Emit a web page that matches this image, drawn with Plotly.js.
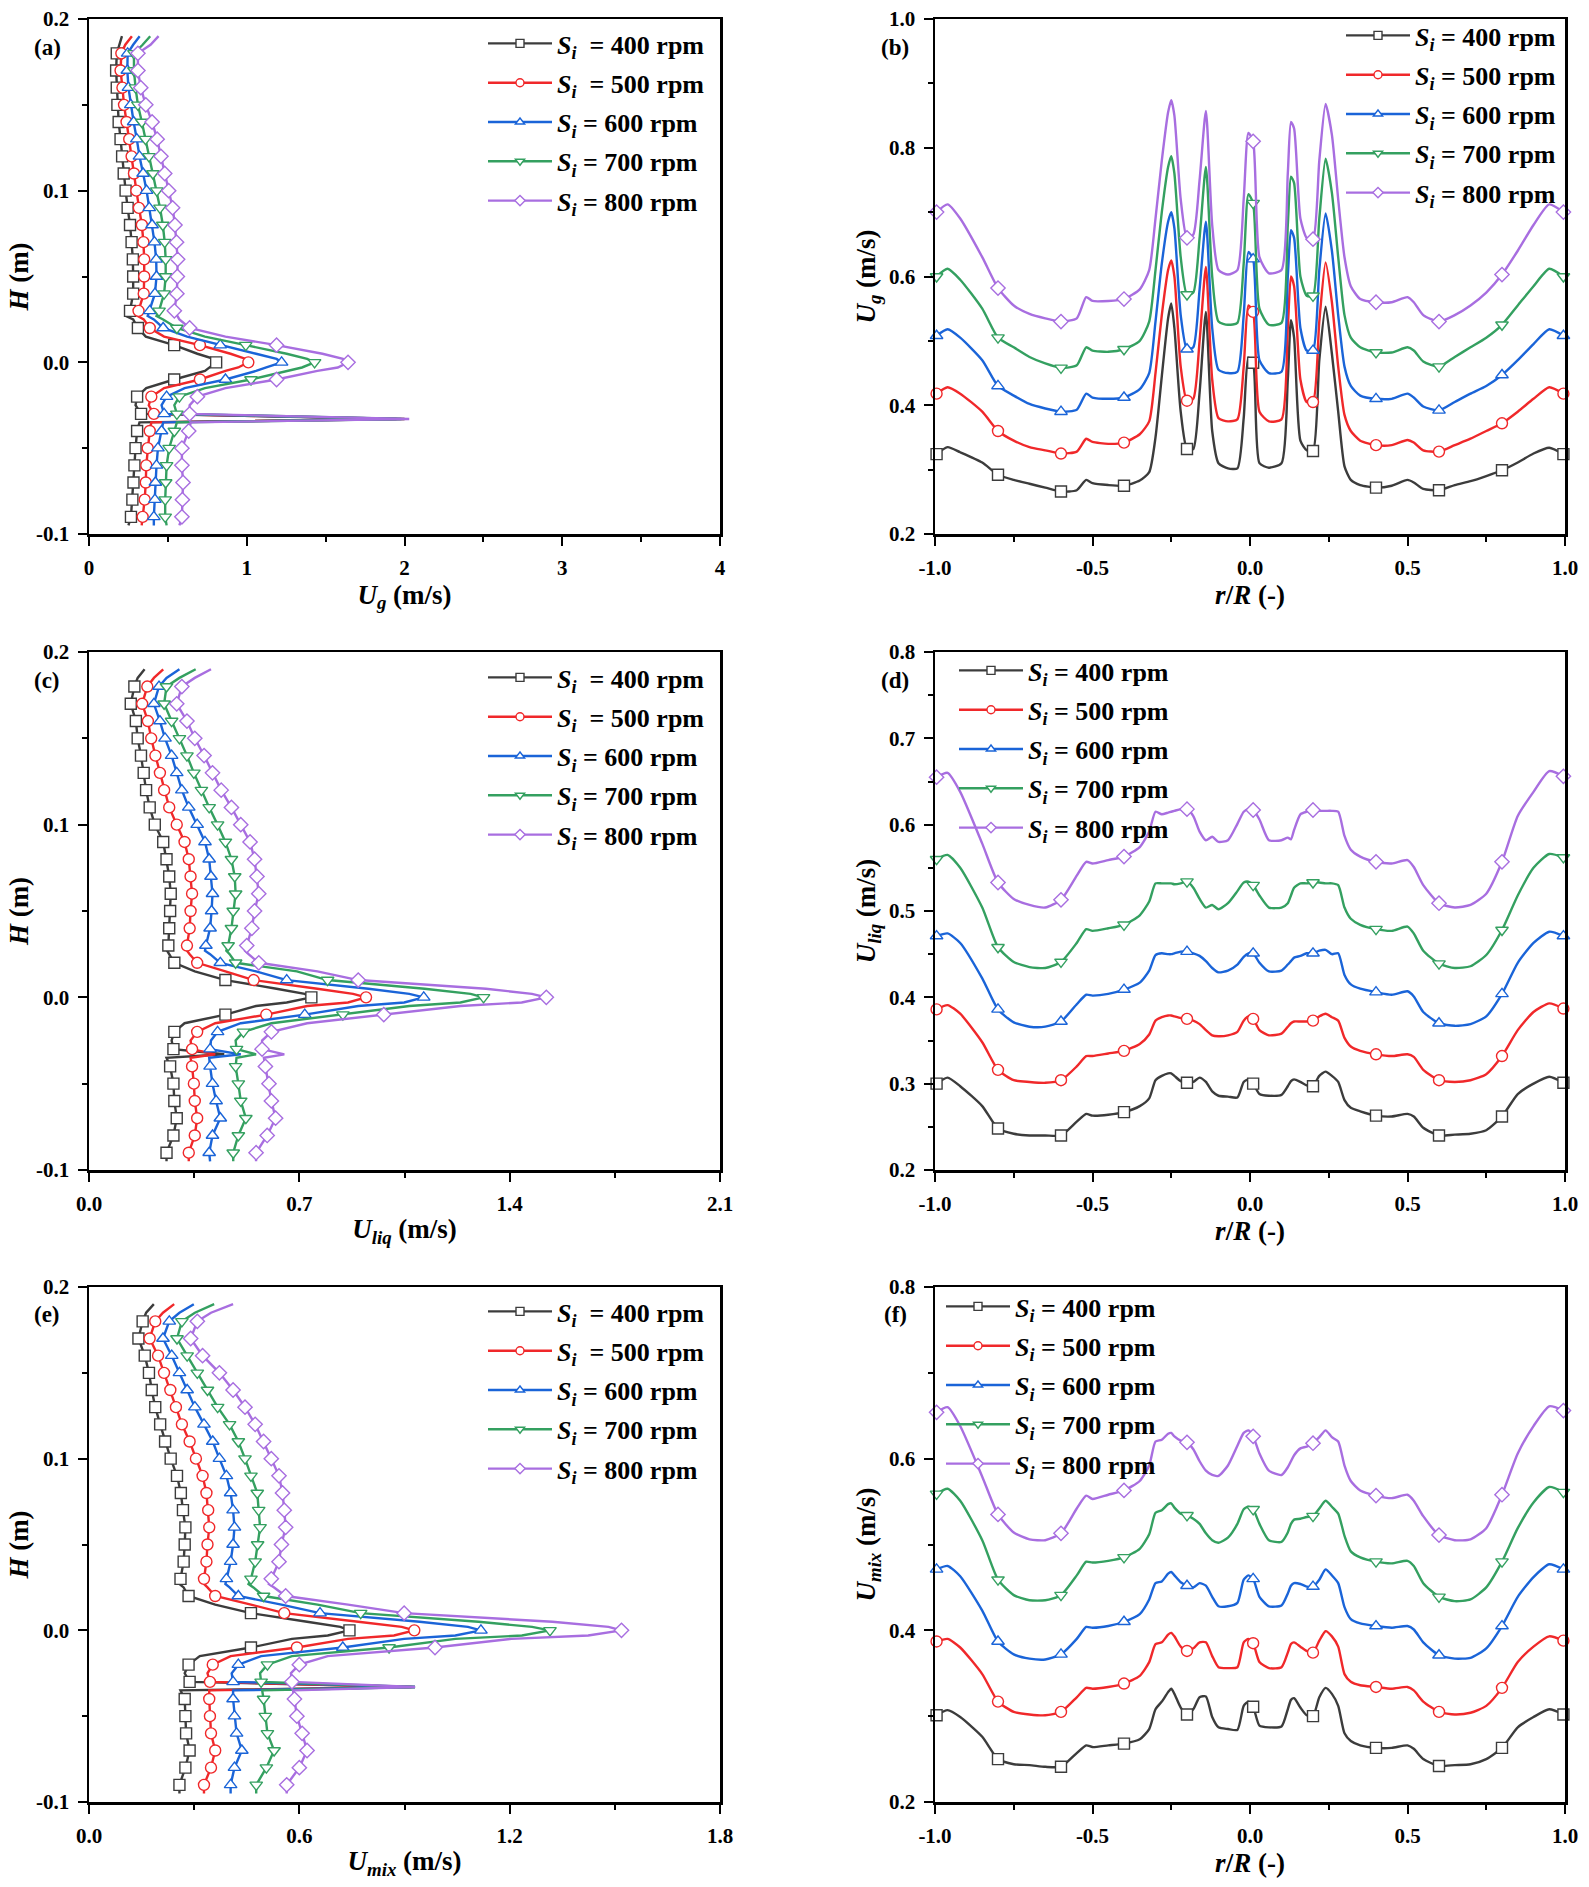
<!DOCTYPE html>
<html><head><meta charset="utf-8">
<script src="https://cdn.plot.ly/plotly-3.0.1.min.js"></script>
<style>html,body{margin:0;padding:0;background:#fff}</style>
</head><body><div id="chart" style="width:1589px;height:1887px"></div>
<script>
// ---------- categories / labels ----------
const speedLabels = ['400', '500', '600', '700', '800'];
const seriesColors = ['#3c3c3c', '#f0282a', '#1a64d8', '#34a060', '#a86ee0'];
const seriesSymbols = ['square', 'circle', 'triangle-up', 'triangle-down', 'diamond'];

// ---------- vertical profiles: height H (m) ----------
const heightH = [0.19,0.185,0.18,0.17,0.16,0.15,0.14,0.13,0.12,0.11,0.10,0.09,0.08,0.07,0.06,0.05,0.04,0.03,0.027,0.025,0.02,0.015,0.01,0.005,0.002,0,-0.003,-0.005,-0.01,-0.015,-0.02,-0.025,-0.03,-0.033,-0.035,-0.04,-0.05,-0.06,-0.07,-0.08,-0.09,-0.095];

// (a) Ug vs H
const ugH400 = [0.209,0.19,0.176,0.172,0.176,0.18,0.188,0.2,0.21,0.22,0.232,0.245,0.26,0.27,0.278,0.28,0.28,0.26,0.235,0.28,0.31,0.36,0.54,0.687,0.79,0.806,0.76,0.735,0.54,0.363,0.305,0.295,0.33,1.95,0.32,0.305,0.295,0.288,0.282,0.275,0.266,0.25];
const ugH500 = [0.272,0.23,0.205,0.2,0.212,0.222,0.238,0.255,0.27,0.285,0.3,0.316,0.335,0.345,0.35,0.35,0.347,0.314,0.308,0.347,0.385,0.476,0.703,0.897,0.994,1.01,0.946,0.865,0.703,0.476,0.395,0.379,0.411,2.0,0.395,0.385,0.372,0.363,0.36,0.353,0.34,0.334];
const ugH600 = [0.321,0.28,0.245,0.243,0.25,0.265,0.283,0.303,0.32,0.343,0.365,0.382,0.4,0.415,0.426,0.428,0.418,0.385,0.372,0.411,0.47,0.622,0.832,1.059,1.189,1.221,1.124,1.059,0.865,0.606,0.492,0.46,0.476,1.98,0.47,0.46,0.437,0.428,0.421,0.418,0.411,0.411];
const ugH700 = [0.388,0.34,0.285,0.285,0.295,0.31,0.335,0.358,0.38,0.405,0.43,0.45,0.468,0.48,0.486,0.486,0.476,0.444,0.428,0.47,0.557,0.735,0.994,1.253,1.383,1.43,1.35,1.253,1.027,0.735,0.573,0.541,0.557,2.0,0.557,0.541,0.508,0.492,0.486,0.483,0.483,0.492];
const ugH800 = [0.441,0.39,0.31,0.31,0.328,0.36,0.4,0.432,0.456,0.48,0.505,0.53,0.545,0.555,0.562,0.56,0.557,0.541,0.557,0.573,0.638,0.865,1.189,1.48,1.61,1.642,1.577,1.448,1.189,0.865,0.687,0.638,0.638,2.03,0.645,0.632,0.589,0.589,0.596,0.592,0.589,0.573];

// (c) Uliq vs H
const uliqH400 = [0.185,0.162,0.151,0.139,0.156,0.162,0.173,0.182,0.19,0.202,0.219,0.247,0.258,0.267,0.272,0.27,0.267,0.264,0.26,0.267,0.284,0.352,0.454,0.624,0.718,0.74,0.658,0.556,0.454,0.318,0.284,0.275,0.281,0.45,0.258,0.27,0.281,0.284,0.292,0.281,0.258,0.258];
const uliqH500 = [0.247,0.216,0.194,0.177,0.196,0.207,0.221,0.236,0.25,0.267,0.292,0.318,0.332,0.338,0.343,0.338,0.335,0.326,0.326,0.335,0.36,0.454,0.548,0.76,0.879,0.922,0.862,0.726,0.59,0.42,0.36,0.338,0.343,0.42,0.338,0.343,0.349,0.352,0.36,0.352,0.332,0.332];
const uliqH600 = [0.301,0.258,0.233,0.216,0.236,0.253,0.275,0.292,0.309,0.332,0.36,0.386,0.4,0.406,0.411,0.408,0.403,0.389,0.386,0.403,0.437,0.556,0.658,0.93,1.066,1.114,1.049,0.896,0.718,0.505,0.428,0.406,0.403,0.505,0.4,0.403,0.411,0.423,0.437,0.411,0.4,0.403];
const uliqH700 = [0.355,0.301,0.258,0.25,0.275,0.301,0.326,0.349,0.374,0.4,0.428,0.454,0.474,0.485,0.488,0.48,0.474,0.463,0.457,0.468,0.488,0.692,0.794,1.117,1.27,1.313,1.236,1.066,0.845,0.607,0.514,0.488,0.491,0.556,0.491,0.488,0.497,0.505,0.522,0.497,0.48,0.48];
const uliqH800 = [0.406,0.352,0.309,0.292,0.326,0.352,0.383,0.411,0.44,0.474,0.505,0.536,0.551,0.559,0.565,0.551,0.542,0.525,0.519,0.531,0.565,0.76,0.896,1.321,1.474,1.522,1.44,1.236,0.981,0.726,0.607,0.576,0.576,0.65,0.582,0.587,0.599,0.607,0.621,0.593,0.556,0.556];

// (e) Umix vs H
const umixH400 = [0.185,0.163,0.153,0.141,0.159,0.171,0.179,0.189,0.203,0.217,0.233,0.251,0.262,0.268,0.275,0.273,0.27,0.261,0.258,0.27,0.284,0.36,0.462,0.622,0.717,0.743,0.681,0.579,0.462,0.316,0.284,0.273,0.287,0.93,0.261,0.273,0.275,0.277,0.287,0.275,0.258,0.258];
const umixH500 = [0.243,0.211,0.189,0.173,0.197,0.214,0.232,0.248,0.265,0.287,0.305,0.324,0.335,0.34,0.343,0.338,0.335,0.328,0.328,0.338,0.36,0.462,0.557,0.768,0.892,0.928,0.87,0.739,0.593,0.404,0.353,0.338,0.345,0.92,0.343,0.343,0.345,0.348,0.36,0.348,0.328,0.328];
const umixH600 = [0.299,0.258,0.229,0.211,0.236,0.258,0.28,0.302,0.328,0.353,0.372,0.392,0.404,0.411,0.415,0.411,0.404,0.392,0.389,0.401,0.426,0.549,0.659,0.943,1.081,1.118,1.045,0.899,0.724,0.491,0.426,0.407,0.411,0.93,0.411,0.411,0.415,0.421,0.436,0.415,0.404,0.404];
const umixH700 = [0.357,0.302,0.265,0.251,0.28,0.309,0.338,0.367,0.401,0.426,0.445,0.462,0.48,0.484,0.488,0.481,0.474,0.462,0.455,0.469,0.498,0.652,0.775,1.111,1.264,1.315,1.235,1.045,0.856,0.579,0.509,0.488,0.491,0.93,0.494,0.498,0.503,0.509,0.528,0.506,0.477,0.477];
const umixH800 = [0.411,0.348,0.309,0.29,0.324,0.372,0.411,0.445,0.474,0.498,0.52,0.542,0.552,0.557,0.561,0.549,0.542,0.52,0.513,0.528,0.561,0.739,0.899,1.322,1.482,1.519,1.424,1.205,0.987,0.681,0.6,0.576,0.579,0.93,0.582,0.586,0.593,0.608,0.622,0.6,0.564,0.564];

// ---------- radial profiles: r/R (-) ----------
const radialR = [-0.995,-0.96,-0.92,-0.85,-0.8,-0.75,-0.7,-0.65,-0.6,-0.55,-0.52,-0.5,-0.45,-0.4,-0.35,-0.32,-0.3,-0.28,-0.26,-0.25,-0.24,-0.22,-0.2,-0.18,-0.16,-0.14,-0.12,-0.1,-0.07,-0.04,-0.02,-0.005,0.01,0.03,0.06,0.1,0.12,0.13,0.14,0.16,0.18,0.2,0.22,0.24,0.26,0.28,0.3,0.32,0.35,0.4,0.45,0.5,0.52,0.55,0.6,0.65,0.7,0.75,0.8,0.85,0.9,0.95,0.995];
const markerR = [-0.995,-0.8,-0.6,-0.4,-0.2,0.01,0.2,0.4,0.6,0.8,0.995];

// (b) Ug vs r/R
const ugR400 = [0.324,0.335,0.327,0.311,0.292,0.284,0.278,0.272,0.266,0.268,0.284,0.279,0.276,0.275,0.283,0.296,0.35,0.445,0.535,0.558,0.52,0.39,0.332,0.332,0.42,0.545,0.36,0.31,0.302,0.302,0.38,0.474,0.466,0.31,0.303,0.31,0.44,0.532,0.505,0.345,0.33,0.329,0.47,0.553,0.48,0.39,0.305,0.284,0.276,0.272,0.275,0.284,0.28,0.27,0.268,0.276,0.282,0.29,0.299,0.311,0.325,0.334,0.324];
const ugR500 = [0.418,0.428,0.418,0.39,0.36,0.345,0.335,0.33,0.325,0.328,0.348,0.343,0.34,0.342,0.355,0.375,0.45,0.54,0.61,0.625,0.6,0.46,0.407,0.41,0.5,0.615,0.44,0.38,0.375,0.378,0.46,0.555,0.545,0.39,0.375,0.378,0.52,0.6,0.585,0.44,0.405,0.405,0.53,0.622,0.56,0.46,0.385,0.36,0.345,0.338,0.338,0.346,0.342,0.33,0.328,0.338,0.348,0.36,0.372,0.39,0.41,0.428,0.418];
const ugR600 = [0.508,0.518,0.505,0.47,0.43,0.415,0.402,0.395,0.39,0.393,0.418,0.412,0.41,0.412,0.425,0.45,0.53,0.62,0.685,0.70,0.675,0.54,0.487,0.49,0.58,0.685,0.52,0.455,0.45,0.452,0.54,0.638,0.627,0.47,0.45,0.452,0.6,0.672,0.66,0.52,0.485,0.485,0.61,0.698,0.64,0.54,0.46,0.43,0.415,0.41,0.41,0.418,0.412,0.398,0.392,0.405,0.418,0.43,0.447,0.47,0.495,0.518,0.508];
const ugR700 = [0.60,0.612,0.595,0.55,0.505,0.49,0.475,0.465,0.458,0.462,0.49,0.485,0.483,0.487,0.5,0.53,0.61,0.7,0.77,0.787,0.76,0.63,0.572,0.575,0.66,0.77,0.6,0.53,0.525,0.528,0.62,0.728,0.714,0.55,0.525,0.528,0.68,0.755,0.745,0.6,0.57,0.57,0.69,0.783,0.73,0.63,0.54,0.505,0.49,0.482,0.482,0.49,0.485,0.468,0.46,0.475,0.49,0.505,0.525,0.555,0.585,0.612,0.60];
const ugR800 = [0.70,0.712,0.69,0.63,0.582,0.555,0.542,0.535,0.53,0.535,0.568,0.562,0.562,0.565,0.58,0.61,0.69,0.78,0.855,0.874,0.85,0.72,0.66,0.665,0.75,0.857,0.68,0.61,0.603,0.61,0.72,0.823,0.81,0.63,0.605,0.61,0.76,0.84,0.83,0.69,0.66,0.658,0.78,0.868,0.82,0.72,0.63,0.585,0.565,0.56,0.56,0.568,0.56,0.54,0.53,0.54,0.555,0.575,0.603,0.64,0.68,0.712,0.70];

// (d) Uliq vs r/R
const uliqR400 = [0.3,0.307,0.297,0.274,0.248,0.242,0.24,0.24,0.24,0.256,0.265,0.263,0.264,0.267,0.274,0.283,0.304,0.309,0.312,0.312,0.309,0.303,0.301,0.302,0.307,0.302,0.291,0.286,0.285,0.284,0.302,0.305,0.3,0.288,0.286,0.287,0.297,0.303,0.305,0.302,0.298,0.297,0.309,0.314,0.309,0.302,0.281,0.272,0.268,0.263,0.262,0.265,0.262,0.249,0.24,0.241,0.242,0.246,0.262,0.288,0.3,0.308,0.301];
const uliqR500 = [0.386,0.391,0.381,0.348,0.316,0.304,0.302,0.301,0.304,0.32,0.332,0.332,0.335,0.338,0.346,0.357,0.373,0.377,0.379,0.379,0.378,0.376,0.375,0.373,0.369,0.362,0.356,0.355,0.356,0.36,0.373,0.378,0.375,0.362,0.356,0.358,0.366,0.37,0.372,0.372,0.372,0.373,0.378,0.381,0.377,0.373,0.353,0.343,0.338,0.334,0.332,0.334,0.331,0.316,0.304,0.302,0.304,0.311,0.332,0.362,0.383,0.393,0.387];
const uliqR600 = [0.471,0.474,0.463,0.422,0.386,0.371,0.366,0.366,0.372,0.392,0.403,0.402,0.404,0.409,0.417,0.431,0.449,0.451,0.45,0.45,0.451,0.453,0.453,0.451,0.448,0.442,0.434,0.429,0.431,0.438,0.447,0.451,0.451,0.44,0.43,0.431,0.438,0.442,0.446,0.448,0.451,0.451,0.454,0.455,0.45,0.451,0.426,0.415,0.41,0.406,0.403,0.407,0.401,0.383,0.37,0.367,0.369,0.378,0.404,0.44,0.463,0.476,0.471];
const uliqR700 = [0.56,0.565,0.55,0.504,0.458,0.441,0.435,0.434,0.441,0.463,0.479,0.477,0.48,0.484,0.495,0.511,0.532,0.532,0.532,0.532,0.531,0.532,0.534,0.527,0.514,0.504,0.507,0.502,0.509,0.523,0.533,0.534,0.53,0.518,0.504,0.504,0.509,0.518,0.527,0.532,0.532,0.533,0.533,0.532,0.532,0.53,0.504,0.491,0.484,0.479,0.477,0.482,0.474,0.454,0.439,0.434,0.436,0.449,0.478,0.518,0.55,0.566,0.562];
const uliqR800 = [0.655,0.66,0.638,0.578,0.533,0.514,0.507,0.504,0.513,0.541,0.557,0.555,0.559,0.563,0.574,0.592,0.615,0.612,0.614,0.615,0.616,0.618,0.618,0.61,0.592,0.582,0.586,0.58,0.582,0.601,0.615,0.618,0.617,0.606,0.582,0.582,0.585,0.583,0.594,0.612,0.615,0.617,0.616,0.616,0.616,0.615,0.587,0.571,0.563,0.557,0.555,0.559,0.551,0.53,0.509,0.504,0.507,0.52,0.557,0.61,0.638,0.662,0.656];

// (f) Umix vs r/R
const umixR400 = [0.301,0.307,0.299,0.276,0.25,0.244,0.243,0.241,0.241,0.257,0.266,0.264,0.266,0.268,0.273,0.285,0.308,0.317,0.328,0.332,0.326,0.31,0.302,0.308,0.322,0.323,0.299,0.287,0.285,0.284,0.312,0.317,0.311,0.289,0.287,0.288,0.308,0.319,0.321,0.31,0.301,0.3,0.322,0.333,0.326,0.312,0.28,0.271,0.266,0.263,0.263,0.266,0.262,0.25,0.242,0.243,0.244,0.25,0.263,0.287,0.299,0.308,0.302];
const umixR500 = [0.387,0.39,0.38,0.349,0.317,0.305,0.302,0.301,0.305,0.322,0.333,0.332,0.334,0.338,0.347,0.363,0.384,0.386,0.395,0.397,0.393,0.381,0.376,0.379,0.386,0.386,0.37,0.357,0.356,0.357,0.386,0.39,0.385,0.363,0.356,0.357,0.374,0.384,0.386,0.381,0.376,0.374,0.388,0.399,0.393,0.381,0.349,0.34,0.336,0.334,0.332,0.334,0.33,0.317,0.305,0.302,0.304,0.312,0.333,0.363,0.381,0.393,0.388];
const umixR600 = [0.471,0.475,0.463,0.423,0.387,0.372,0.367,0.366,0.372,0.39,0.404,0.403,0.405,0.41,0.419,0.436,0.455,0.457,0.466,0.468,0.464,0.456,0.452,0.45,0.455,0.452,0.439,0.428,0.428,0.432,0.459,0.464,0.46,0.439,0.428,0.429,0.443,0.452,0.455,0.454,0.451,0.451,0.459,0.471,0.464,0.455,0.427,0.413,0.408,0.405,0.403,0.405,0.401,0.386,0.371,0.367,0.368,0.379,0.405,0.439,0.462,0.477,0.471];
const umixR700 = [0.559,0.565,0.551,0.505,0.459,0.441,0.435,0.435,0.441,0.464,0.48,0.479,0.481,0.485,0.495,0.512,0.537,0.54,0.547,0.548,0.543,0.536,0.534,0.53,0.524,0.513,0.505,0.502,0.508,0.524,0.541,0.544,0.541,0.524,0.505,0.503,0.514,0.524,0.529,0.53,0.532,0.533,0.542,0.551,0.544,0.536,0.51,0.492,0.485,0.48,0.478,0.481,0.475,0.455,0.439,0.434,0.436,0.45,0.48,0.519,0.549,0.567,0.561];
const umixR800 = [0.654,0.66,0.638,0.579,0.535,0.514,0.506,0.505,0.513,0.542,0.557,0.553,0.558,0.563,0.574,0.592,0.62,0.622,0.629,0.63,0.626,0.621,0.619,0.611,0.597,0.586,0.581,0.58,0.592,0.615,0.63,0.633,0.626,0.606,0.586,0.581,0.59,0.597,0.604,0.612,0.614,0.618,0.625,0.633,0.625,0.62,0.592,0.574,0.563,0.557,0.554,0.558,0.551,0.533,0.511,0.505,0.506,0.519,0.558,0.606,0.638,0.661,0.656];

// ---------- tick labels ----------
const tickH = [-0.1, 0, 0.1, 0.2];
const tickHText = ['-0.1', '0.0', '0.1', '0.2'];
const tickUgX = [0, 1, 2, 3, 4];
const tickUgXText = ['0', '1', '2', '3', '4'];
const tickUliqX = [0, 0.7, 1.4, 2.1];
const tickUliqXText = ['0.0', '0.7', '1.4', '2.1'];
const tickUmixX = [0, 0.6, 1.2, 1.8];
const tickUmixXText = ['0.0', '0.6', '1.2', '1.8'];
const tickR = [-1, -0.5, 0, 0.5, 1];
const tickRText = ['-1.0', '-0.5', '0.0', '0.5', '1.0'];
const tickUgY = [0.2, 0.4, 0.6, 0.8, 1.0];
const tickUgYText = ['0.2', '0.4', '0.6', '0.8', '1.0'];
const tickUliqY = [0.2, 0.3, 0.4, 0.5, 0.6, 0.7, 0.8];
const tickUliqYText = ['0.2', '0.3', '0.4', '0.5', '0.6', '0.7', '0.8'];
const tickUmixY = [0.2, 0.4, 0.6, 0.8];
const tickUmixYText = ['0.2', '0.4', '0.6', '0.8'];

// ---------- build ----------
const W = 1589, HT = 1887;
const FONT = 'Liberation Serif, Times New Roman, serif';
const px2x = p => p / W;
const px2y = p => 1 - p / HT;

const colL = [px2x(89), px2x(720)];
const colR = [px2x(935), px2x(1565)];
const row1 = [px2y(534), px2y(19)];
const row2 = [px2y(1170), px2y(652)];
const row3 = [px2y(1802), px2y(1287)];

const LEG_ITEMW = 64;

function legendName(i, wide) {
  return '<i>S</i><sub><i>i</i></sub>' + (wide && i < 2 ? '\u00a0 = ' : ' = ') + speedLabels[i] + ' rpm';
}

const panels = [
  {id: 'a', n: 1, kind: 'H', sets: [ugH400, ugH500, ugH600, ugH700, ugH800], col: colL, row: row1,
   xr: [0, 4], xt: tickUgX, xtt: tickUgXText, xm: 0.5, yr: [-0.1, 0.2], yt: tickH, ytt: tickHText, ym: 0.05,
   xtitle: '<i>U</i><sub><i>g</i></sub> (m/s)', ytitle: '<i>H</i> (m)', leg: [517, 20], lab: [47, 47]},
  {id: 'b', n: 2, kind: 'R', sets: [ugR400, ugR500, ugR600, ugR700, ugR800], col: colR, row: row1,
   xr: [-1, 1], xt: tickR, xtt: tickRText, xm: 0.25, yr: [0.2, 1.0], yt: tickUgY, ytt: tickUgYText, ym: 0.1,
   xtitle: '<i>r</i>/<i>R</i> (-)', ytitle: '<i>U</i><sub><i>g</i></sub> (m/s)', leg: [1375, 12], lab: [895, 47]},
  {id: 'c', n: 3, kind: 'H', sets: [uliqH400, uliqH500, uliqH600, uliqH700, uliqH800], col: colL, row: row2,
   xr: [0, 2.1], xt: tickUliqX, xtt: tickUliqXText, xm: 0.35, yr: [-0.1, 0.2], yt: tickH, ytt: tickHText, ym: 0.05,
   xtitle: '<i>U</i><sub><i>liq</i></sub> (m/s)', ytitle: '<i>H</i> (m)', leg: [517, 654], lab: [47, 680]},
  {id: 'd', n: 4, kind: 'R', sets: [uliqR400, uliqR500, uliqR600, uliqR700, uliqR800], col: colR, row: row2,
   xr: [-1, 1], xt: tickR, xtt: tickRText, xm: 0.25, yr: [0.2, 0.8], yt: tickUliqY, ytt: tickUliqYText, ym: 0.05,
   xtitle: '<i>r</i>/<i>R</i> (-)', ytitle: '<i>U</i><sub><i>liq</i></sub> (m/s)', leg: [988, 647], lab: [895, 680]},
  {id: 'e', n: 5, kind: 'H', sets: [umixH400, umixH500, umixH600, umixH700, umixH800], col: colL, row: row3,
   xr: [0, 1.8], xt: tickUmixX, xtt: tickUmixXText, xm: 0.3, yr: [-0.1, 0.2], yt: tickH, ytt: tickHText, ym: 0.05,
   xtitle: '<i>U</i><sub><i>mix</i></sub> (m/s)', ytitle: '<i>H</i> (m)', leg: [517, 1288], lab: [47, 1314]},
  {id: 'f', n: 6, kind: 'R', sets: [umixR400, umixR500, umixR600, umixR700, umixR800], col: colR, row: row3,
   xr: [-1, 1], xt: tickR, xtt: tickRText, xm: 0.25, yr: [0.2, 0.8], yt: tickUmixY, ytt: tickUmixYText, ym: 0.1,
   xtitle: '<i>r</i>/<i>R</i> (-)', ytitle: '<i>U</i><sub><i>mix</i></sub> (m/s)', leg: [975, 1283], lab: [895, 1314]}
];

const markIdxH = heightH.map((h, i) => i).filter(i => heightH[i] <= 0.181 && heightH[i] >= -0.091 &&
  Math.abs(heightH[i] * 100 - Math.round(heightH[i] * 100)) < 1e-6);
const markIdxR = radialR.map((r, i) => i).filter(i => markerR.some(m => Math.abs(m - radialR[i]) < 1e-9));

const traces = [];
const layout = {
  width: W, height: HT, margin: {l: 0, r: 0, t: 0, b: 0},
  paper_bgcolor: '#fff', plot_bgcolor: '#fff', showlegend: true, annotations: []
};

function axisCfg(o) {
  return {
    domain: o.domain, anchor: o.anchor, range: o.range, autorange: false,
    tickmode: 'array', tickvals: o.tickvals, ticktext: o.ticktext,
    ticks: 'outside', ticklen: 9, tickwidth: 2, tickcolor: '#000',
    minor: {ticks: 'outside', ticklen: 5, tickwidth: 2, tickcolor: '#000', tickmode: 'linear', tick0: o.range[0], dtick: o.minor},
    showline: true, linewidth: 2.5, linecolor: '#000', mirror: true,
    showgrid: false, zeroline: false, ticklabelstandoff: 4,
    tickfont: {family: FONT, size: 21, weight: 700, color: '#000'},
    title: {text: o.title, font: {family: FONT, size: 27, weight: 700, color: '#000'}, standoff: o.standoff},
    automargin: false, fixedrange: true
  };
}

panels.forEach(p => {
  const xa = 'x' + (p.n === 1 ? '' : p.n), ya = 'y' + (p.n === 1 ? '' : p.n);
  const legKey = 'legend' + (p.n === 1 ? '' : p.n);
  const wide = p.kind === 'H';
  layout['xaxis' + (p.n === 1 ? '' : p.n)] = axisCfg({domain: p.col, anchor: ya, range: p.xr, tickvals: p.xt, ticktext: p.xtt,
    minor: p.xm, title: p.xtitle, standoff: 5});
  layout['yaxis' + (p.n === 1 ? '' : p.n)] = axisCfg({domain: p.row, anchor: xa, range: p.yr, tickvals: p.yt, ticktext: p.ytt,
    minor: p.ym, title: p.ytitle, standoff: wide ? 0 : 6});
  layout[legKey] = {
    x: px2x(p.leg[0] - (LEG_ITEMW - 30)), y: px2y(p.leg[1]), xanchor: 'left', yanchor: 'top',
    bgcolor: 'rgba(0,0,0,0)', borderwidth: 0, traceorder: 'grouped', tracegroupgap: 2.5, itemwidth: LEG_ITEMW,
    font: {family: FONT, size: 26, weight: 700, color: '#000'}
  };
  layout.annotations.push({
    xref: 'paper', yref: 'paper', x: px2x(p.lab[0]), y: px2y(p.lab[1]), xanchor: 'center', yanchor: 'middle',
    text: '(' + p.id + ')', showarrow: false, font: {family: FONT, size: 23, weight: 700, color: '#000'}
  });
  p.sets.forEach((vals, i) => {
    const col = seriesColors[i];
    let lx, ly, mx, my, shape;
    if (p.kind === 'H') {
      lx = vals; ly = heightH; shape = 'linear';
      mx = markIdxH.map(k => vals[k]); my = markIdxH.map(k => heightH[k]);
    } else {
      lx = radialR; ly = vals; shape = 'spline';
      mx = markIdxR.map(k => radialR[k]); my = markIdxR.map(k => vals[k]);
    }
    const mk = {symbol: seriesSymbols[i], size: 11, color: '#fff', line: {color: col, width: 1.4}};
    traces.push({type: 'scatter', mode: 'lines', x: lx, y: ly, xaxis: xa, yaxis: ya, showlegend: false, hoverinfo: 'skip',
      line: {color: col, width: 2.4, shape: shape, smoothing: 0.6}});
    traces.push({type: 'scatter', mode: 'markers', x: mx, y: my, xaxis: xa, yaxis: ya, showlegend: false, hoverinfo: 'skip',
      marker: mk, cliponaxis: false});
    traces.push({type: 'scatter', mode: 'lines+markers', x: [null], y: [null], xaxis: xa, yaxis: ya,
      name: legendName(i, wide), legend: legKey, legendgroup: p.id + i, showlegend: true,
      line: {color: col, width: 2.4}, marker: {symbol: seriesSymbols[i], size: 8, color: '#fff', line: {color: col, width: 1.4}}});
  });
});

Plotly.newPlot('chart', traces, layout, {staticPlot: true, displayModeBar: false});
</script>
</body></html>
